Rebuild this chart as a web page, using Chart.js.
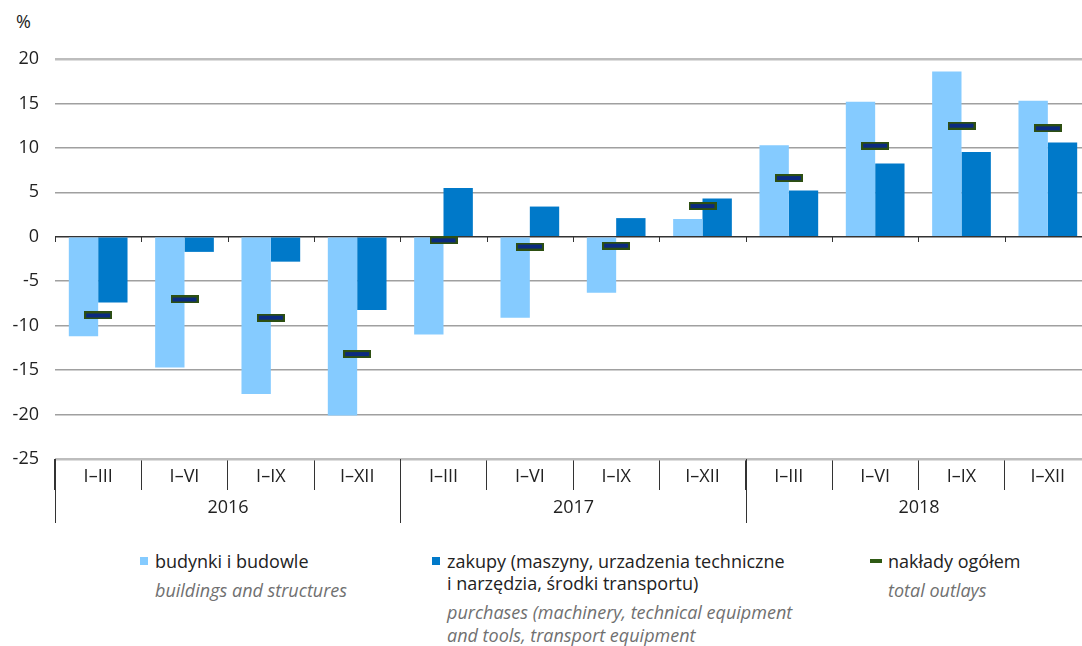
<!DOCTYPE html>
<html>
<head>
<meta charset="utf-8">
<script src="https://cdn.jsdelivr.net/npm/chart.js@4"></script>
<style>
  body { margin: 0; overflow: hidden; background: #fff; font-family: "Open Sans", sans-serif; width: 1082px; height: 646px; position: relative; }
  #wrap { position: absolute; left: 0; top: 0; width: 1096px; height: 530px; }
  #pct { position: absolute; left: 16px; top: 9px; font-size: 18px; color: #222; }
  .leg { position: absolute; top: 550px; font-size: 18px; color: #222; line-height: 22px; white-space: nowrap; }
  .leg .en { font-style: italic; color: #707070; margin-top: 7px; line-height: 23px; }
  .sw { position: absolute; left: -15px; top: 7px; width: 8px; height: 8px; }
</style>
</head>
<body>
<div id="pct">%</div>
<div id="wrap"><canvas id="chart"></canvas></div>

<div class="leg" style="left:155px">
  <span class="sw" style="background:#85cbff"></span>
  budynki i budowle
  <div class="en">buildings and structures</div>
</div>
<div class="leg" style="left:447px">
  <span class="sw" style="background:#0079c9"></span>
  zakupy (maszyny, urzadzenia techniczne<br>i narzędzia, środki transportu)
  <div class="en">purchases (machinery, technical equipment<br>and tools, transport equipment</div>
</div>
<div class="leg" style="left:888px">
  <span class="sw" style="background:#2f5a14;left:-18px;top:9px;width:12px;height:4px"></span>
  nakłady ogółem
  <div class="en">total outlays</div>
</div>

<script>
// chart data
const years = ['2016', '2017', '2018'];
const periods = ['I–III', 'I–VI', 'I–IX', 'I–XII'];
const buildings = [-11.2, -14.7, -17.7, -20.1, -11.0, -9.1, -6.3, 2.0, 10.3, 15.2, 18.6, 15.3];
const purchases = [-7.4, -1.7, -2.8, -8.25, 5.5, 3.4, 2.1, 4.3, 5.2, 8.25, 9.55, 10.6];
const totalOutlays = [-8.85, -7.05, -9.1, -13.2, -0.4, -1.1, -1.0, 3.45, 6.6, 10.25, 12.5, 12.2];

const labels = years.flatMap(() => periods);

// marker for total outlays: navy bar with green outline
function makeMarker() {
  const c = document.createElement('canvas');
  c.width = 28; c.height = 8;
  const g = c.getContext('2d');
  g.fillStyle = '#2d4f12';
  g.fillRect(0, 0, 28, 8);
  g.fillStyle = '#0b2a80';
  g.fillRect(2, 2, 24, 4);
  return c;
}

// year groups, dividers and small ticks on the zero line
const groupPlugin = {
  id: 'groups',
  afterDraw(chart) {
    const { ctx, scales: { x, y } } = chart;
    const half = (x.getPixelForValue(1) - x.getPixelForValue(0)) / 2;
    const edge = i => Math.round(x.getPixelForValue(i) - half) + 0.5;
    const y0 = Math.round(y.getPixelForValue(0));
    ctx.save();
    ctx.strokeStyle = '#333';
    ctx.lineWidth = 1;
    for (let i = 0; i <= labels.length; i++) {
      ctx.beginPath();
      ctx.moveTo(edge(i), y0);
      ctx.lineTo(edge(i), y0 + 5);
      ctx.stroke();
    }
    ctx.fillStyle = '#222';
    ctx.font = '18px "Open Sans"';
    ctx.textAlign = 'center';
    ctx.textBaseline = 'middle';
    years.forEach((yr, k) => {
      const a = edge(k * 4), b = edge(k * 4 + 4);
      ctx.beginPath();
      ctx.moveTo(a, x.top);
      ctx.lineTo(a, x.top + 64);
      ctx.stroke();
      ctx.fillText(yr, (a + b) / 2, x.top + 49);
    });
    ctx.restore();
  }
};

Chart.defaults.font.family = '"Open Sans", sans-serif';
Chart.defaults.font.size = 18;
Chart.defaults.color = '#222';

new Chart(document.getElementById('chart'), {
  data: {
    labels: labels,
    datasets: [
      {
        type: 'line',
        label: 'nakłady ogółem',
        data: totalOutlays,
        showLine: false,
        pointStyle: makeMarker(),
        order: 0
      },
      {
        type: 'bar',
        label: 'budynki i budowle',
        data: buildings,
        backgroundColor: '#85cbff',
        categoryPercentage: 0.68,
        barPercentage: 1.0,
        order: 1
      },
      {
        type: 'bar',
        label: 'zakupy',
        data: purchases,
        backgroundColor: '#0079c9',
        categoryPercentage: 0.68,
        barPercentage: 1.0,
        order: 1
      }
    ]
  },
  options: {
    responsive: true,
    maintainAspectRatio: false,
    animation: false,
    layout: { padding: { top: 59, right: 5, left: 0, bottom: 0 } },
    plugins: { legend: { display: false }, tooltip: { enabled: false } },
    scales: {
      x: {
        offset: true,
        border: { display: false },
        grid: { offset: true, drawOnChartArea: false, tickLength: 31, color: '#333', lineWidth: 1 },
        ticks: { padding: -24, maxRotation: 0, autoSkip: false },
        afterFit: s => { s.height = 71; }
      },
      y: {
        min: -25,
        max: 20,
        border: { display: false },
        grid: {
          drawTicks: false,
          color: c => c.tick.value === 0 ? '#333' : (c.tick.value === 20 || c.tick.value === -25 ? '#bdbdbd' : '#a0a0a0'),
          lineWidth: c => (c.tick.value === 20 || c.tick.value === -25) ? 2.5 : 1.5
        },
        ticks: { stepSize: 5, padding: 16, callback: v => String(v) },
        afterFit: s => { s.width = 55; }
      }
    }
  },
  plugins: [groupPlugin]
});
</script>
</body>
</html>
